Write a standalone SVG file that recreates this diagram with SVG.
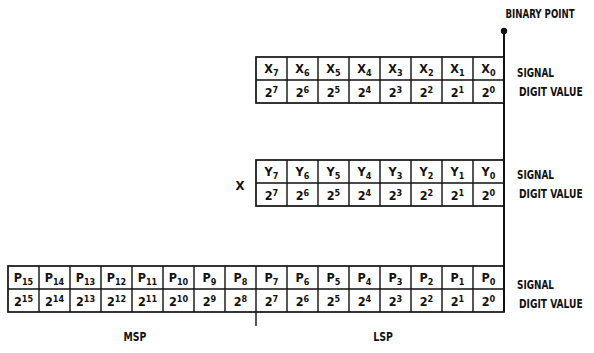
<svg xmlns="http://www.w3.org/2000/svg" width="594" height="353" viewBox="0 0 594 353">
<style>
text{font-family:"DejaVu Sans Condensed","Liberation Sans",sans-serif;font-weight:bold;fill:#111}
.c{font-size:12.5px;text-anchor:middle}
.s{font-size:9px}
.lbl{font-size:13px}
.m{text-anchor:middle}
.box{fill:none;stroke:#111;stroke-width:1.7}
.ln{stroke:#111;stroke-width:1.4;fill:none}
</style>
<rect width="594" height="353" fill="#fff"/>
<g id="connectors">
<line class="ln" x1="504" y1="31" x2="504" y2="312" style="stroke-width:2"/>
<circle cx="504" cy="31" r="3.2" fill="#111"/>
<line class="ln" x1="256" y1="312" x2="256" y2="326"/>
</g>
<g id="binary-point"><text class="lbl m" transform="translate(540 18) scale(0.74 1)">BINARY POINT</text></g>
<g id="x-register">
<rect class="box" x="256" y="57" width="248" height="46"/>
<path class="ln" d="M256 80H504M287 57V103M318 57V103M349 57V103M380 57V103M411 57V103M442 57V103M473 57V103"/>
<text class="c" y="73"><tspan x="271.5">X</tspan><tspan class="s" dy="3">7</tspan></text>
<text class="c" y="73"><tspan x="302.5">X</tspan><tspan class="s" dy="3">6</tspan></text>
<text class="c" y="73"><tspan x="333.5">X</tspan><tspan class="s" dy="3">5</tspan></text>
<text class="c" y="73"><tspan x="364.5">X</tspan><tspan class="s" dy="3">4</tspan></text>
<text class="c" y="73"><tspan x="395.5">X</tspan><tspan class="s" dy="3">3</tspan></text>
<text class="c" y="73"><tspan x="426.5">X</tspan><tspan class="s" dy="3">2</tspan></text>
<text class="c" y="73"><tspan x="457.5">X</tspan><tspan class="s" dy="3">1</tspan></text>
<text class="c" y="73"><tspan x="488.5">X</tspan><tspan class="s" dy="3">0</tspan></text>
<text class="c" y="97"><tspan x="271.5">2</tspan><tspan class="s" dy="-4">7</tspan></text>
<text class="c" y="97"><tspan x="302.5">2</tspan><tspan class="s" dy="-4">6</tspan></text>
<text class="c" y="97"><tspan x="333.5">2</tspan><tspan class="s" dy="-4">5</tspan></text>
<text class="c" y="97"><tspan x="364.5">2</tspan><tspan class="s" dy="-4">4</tspan></text>
<text class="c" y="97"><tspan x="395.5">2</tspan><tspan class="s" dy="-4">3</tspan></text>
<text class="c" y="97"><tspan x="426.5">2</tspan><tspan class="s" dy="-4">2</tspan></text>
<text class="c" y="97"><tspan x="457.5">2</tspan><tspan class="s" dy="-4">1</tspan></text>
<text class="c" y="97"><tspan x="488.5">2</tspan><tspan class="s" dy="-4">0</tspan></text>
<text class="lbl" transform="translate(517 77) scale(0.76 1)">SIGNAL</text>
<text class="lbl" transform="translate(519 96) scale(0.78 1)">DIGIT VALUE</text>
</g>
<g id="y-register">
<rect class="box" x="256" y="160" width="248" height="46"/>
<path class="ln" d="M256 183H504M287 160V206M318 160V206M349 160V206M380 160V206M411 160V206M442 160V206M473 160V206"/>
<text class="c" y="176"><tspan x="271.5">Y</tspan><tspan class="s" dy="3">7</tspan></text>
<text class="c" y="176"><tspan x="302.5">Y</tspan><tspan class="s" dy="3">6</tspan></text>
<text class="c" y="176"><tspan x="333.5">Y</tspan><tspan class="s" dy="3">5</tspan></text>
<text class="c" y="176"><tspan x="364.5">Y</tspan><tspan class="s" dy="3">4</tspan></text>
<text class="c" y="176"><tspan x="395.5">Y</tspan><tspan class="s" dy="3">3</tspan></text>
<text class="c" y="176"><tspan x="426.5">Y</tspan><tspan class="s" dy="3">2</tspan></text>
<text class="c" y="176"><tspan x="457.5">Y</tspan><tspan class="s" dy="3">1</tspan></text>
<text class="c" y="176"><tspan x="488.5">Y</tspan><tspan class="s" dy="3">0</tspan></text>
<text class="c" y="200"><tspan x="271.5">2</tspan><tspan class="s" dy="-4">7</tspan></text>
<text class="c" y="200"><tspan x="302.5">2</tspan><tspan class="s" dy="-4">6</tspan></text>
<text class="c" y="200"><tspan x="333.5">2</tspan><tspan class="s" dy="-4">5</tspan></text>
<text class="c" y="200"><tspan x="364.5">2</tspan><tspan class="s" dy="-4">4</tspan></text>
<text class="c" y="200"><tspan x="395.5">2</tspan><tspan class="s" dy="-4">3</tspan></text>
<text class="c" y="200"><tspan x="426.5">2</tspan><tspan class="s" dy="-4">2</tspan></text>
<text class="c" y="200"><tspan x="457.5">2</tspan><tspan class="s" dy="-4">1</tspan></text>
<text class="c" y="200"><tspan x="488.5">2</tspan><tspan class="s" dy="-4">0</tspan></text>
<text class="lbl" transform="translate(517 179) scale(0.76 1)">SIGNAL</text>
<text class="lbl" transform="translate(519 198) scale(0.78 1)">DIGIT VALUE</text>
</g>
<g id="multiply-sign"><text class="lbl m" x="240" y="190">X</text></g>
<g id="p-register">
<rect class="box" x="8" y="266" width="496" height="46"/>
<path class="ln" d="M8 289H504M39 266V312M70 266V312M101 266V312M132 266V312M163 266V312M194 266V312M225 266V312M256 266V312M287 266V312M318 266V312M349 266V312M380 266V312M411 266V312M442 266V312M473 266V312"/>
<text class="c" y="282"><tspan x="23.5">P</tspan><tspan class="s" dy="3">15</tspan></text>
<text class="c" y="282"><tspan x="54.5">P</tspan><tspan class="s" dy="3">14</tspan></text>
<text class="c" y="282"><tspan x="85.5">P</tspan><tspan class="s" dy="3">13</tspan></text>
<text class="c" y="282"><tspan x="116.5">P</tspan><tspan class="s" dy="3">12</tspan></text>
<text class="c" y="282"><tspan x="147.5">P</tspan><tspan class="s" dy="3">11</tspan></text>
<text class="c" y="282"><tspan x="178.5">P</tspan><tspan class="s" dy="3">10</tspan></text>
<text class="c" y="282"><tspan x="209.5">P</tspan><tspan class="s" dy="3">9</tspan></text>
<text class="c" y="282"><tspan x="240.5">P</tspan><tspan class="s" dy="3">8</tspan></text>
<text class="c" y="282"><tspan x="271.5">P</tspan><tspan class="s" dy="3">7</tspan></text>
<text class="c" y="282"><tspan x="302.5">P</tspan><tspan class="s" dy="3">6</tspan></text>
<text class="c" y="282"><tspan x="333.5">P</tspan><tspan class="s" dy="3">5</tspan></text>
<text class="c" y="282"><tspan x="364.5">P</tspan><tspan class="s" dy="3">4</tspan></text>
<text class="c" y="282"><tspan x="395.5">P</tspan><tspan class="s" dy="3">3</tspan></text>
<text class="c" y="282"><tspan x="426.5">P</tspan><tspan class="s" dy="3">2</tspan></text>
<text class="c" y="282"><tspan x="457.5">P</tspan><tspan class="s" dy="3">1</tspan></text>
<text class="c" y="282"><tspan x="488.5">P</tspan><tspan class="s" dy="3">0</tspan></text>
<text class="c" y="306"><tspan x="23.5">2</tspan><tspan class="s" dy="-4">15</tspan></text>
<text class="c" y="306"><tspan x="54.5">2</tspan><tspan class="s" dy="-4">14</tspan></text>
<text class="c" y="306"><tspan x="85.5">2</tspan><tspan class="s" dy="-4">13</tspan></text>
<text class="c" y="306"><tspan x="116.5">2</tspan><tspan class="s" dy="-4">12</tspan></text>
<text class="c" y="306"><tspan x="147.5">2</tspan><tspan class="s" dy="-4">11</tspan></text>
<text class="c" y="306"><tspan x="178.5">2</tspan><tspan class="s" dy="-4">10</tspan></text>
<text class="c" y="306"><tspan x="209.5">2</tspan><tspan class="s" dy="-4">9</tspan></text>
<text class="c" y="306"><tspan x="240.5">2</tspan><tspan class="s" dy="-4">8</tspan></text>
<text class="c" y="306"><tspan x="271.5">2</tspan><tspan class="s" dy="-4">7</tspan></text>
<text class="c" y="306"><tspan x="302.5">2</tspan><tspan class="s" dy="-4">6</tspan></text>
<text class="c" y="306"><tspan x="333.5">2</tspan><tspan class="s" dy="-4">5</tspan></text>
<text class="c" y="306"><tspan x="364.5">2</tspan><tspan class="s" dy="-4">4</tspan></text>
<text class="c" y="306"><tspan x="395.5">2</tspan><tspan class="s" dy="-4">3</tspan></text>
<text class="c" y="306"><tspan x="426.5">2</tspan><tspan class="s" dy="-4">2</tspan></text>
<text class="c" y="306"><tspan x="457.5">2</tspan><tspan class="s" dy="-4">1</tspan></text>
<text class="c" y="306"><tspan x="488.5">2</tspan><tspan class="s" dy="-4">0</tspan></text>
<text class="lbl" transform="translate(517 289) scale(0.76 1)">SIGNAL</text>
<text class="lbl" transform="translate(519 308) scale(0.78 1)">DIGIT VALUE</text>
</g>
<g id="msp-label"><text class="lbl m" transform="translate(135 341) scale(0.8 1)">MSP</text></g>
<g id="lsp-label"><text class="lbl m" transform="translate(383 341) scale(0.8 1)">LSP</text></g>
</svg>
